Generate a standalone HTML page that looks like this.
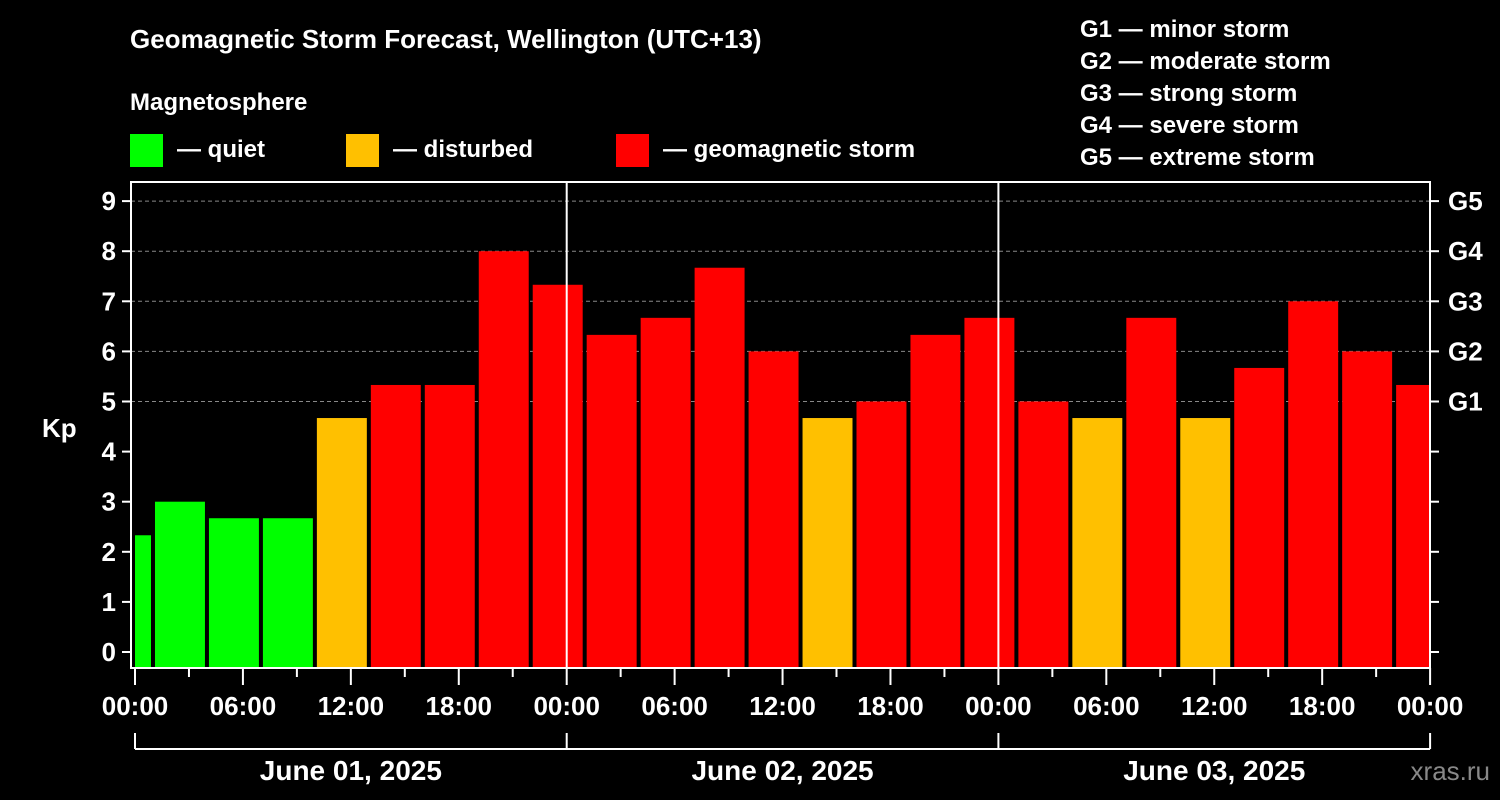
<!DOCTYPE html>
<html><head><meta charset="utf-8"><style>
html,body{margin:0;padding:0;background:#000;}
svg{display:block;font-family:"Liberation Sans",sans-serif;font-weight:bold;}
</style></head><body>
<svg id="chart" width="1500" height="800" xmlns="http://www.w3.org/2000/svg">
<rect width="1500" height="800" fill="#000"/>
<text x="130" y="48" fill="#fff" font-size="26">Geomagnetic Storm Forecast, Wellington (UTC+13)</text>
<text x="130" y="110" fill="#fff" font-size="24">Magnetosphere</text>
<g><rect x="130" y="134" width="33" height="33" fill="#00ff00"/><text x="177" y="157" fill="#fff" font-size="24">— quiet</text></g>
<g><rect x="346" y="134" width="33" height="33" fill="#ffc000"/><text x="393" y="157" fill="#fff" font-size="24">— disturbed</text></g>
<g><rect x="616" y="134" width="33" height="33" fill="#ff0000"/><text x="663" y="157" fill="#fff" font-size="24">— geomagnetic storm</text></g>
<g font-size="24" fill="#fff">
<text x="1080" y="37">G1 — minor storm</text>
<text x="1080" y="69">G2 — moderate storm</text>
<text x="1080" y="101">G3 — strong storm</text>
<text x="1080" y="133">G4 — severe storm</text>
<text x="1080" y="165">G5 — extreme storm</text>
</g>
<text x="42" y="437" fill="#fff" font-size="26">Kp</text>
<text x="1490" y="780" fill="#888" font-size="26" text-anchor="end" font-weight="normal">xras.ru</text>
<g id="plot"></g>
</svg>
<script>
const kpValues=[2.33,3,2.67,2.67,4.67,5.33,5.33,8,7.33,6.33,6.67,7.67,6,4.67,5,6.33,6.67,5,4.67,6.67,4.67,5.67,7,6,5.33];
const startHour=-2; // first bar starts at 22:00 previous day
const dayLabels=["June 01, 2025","June 02, 2025","June 03, 2025"];
const timeLabels=["00:00","06:00","12:00","18:00"];
const gLabels=["G1","G2","G3","G4","G5"];

const NS="http://www.w3.org/2000/svg";
const plot=document.getElementById('plot');
const X0=135,PX_H=431.7/24,L=131,R=1430,T=182,B=668;
const x=h=>X0+h*PX_H;
const y=v=>652-v*50.1;
function mk(tag,attrs,parent){const e=document.createElementNS(NS,tag);for(const k in attrs)e.setAttribute(k,attrs[k]);(parent||plot).appendChild(e);return e;}
// grid
for(let v=5;v<=9;v++){const l=mk('line',{x1:L,x2:R,y1:y(v),y2:y(v),stroke:'#888','stroke-dasharray':'4,3','stroke-width':1});

}
// bars
kpValues.forEach((v,i)=>{
 let h0=startHour+i*3,h1=h0+3;
 let x0=Math.max(x(h0)+2,L+4),x1=Math.min(x(h1)-2,R);
 const c=v<4?'#00ff00':(v<5?'#ffc000':'#ff0000');
 const r=mk('rect',{x:x0,y:y(v),width:x1-x0,height:B-y(v),fill:c});
 
 
});
// day separators
for(let d=1;d<3;d++){const l=mk('line',{x1:x(d*24),x2:x(d*24),y1:T,y2:B,stroke:'#fff','stroke-width':2});

}
// frame
const fr=mk('rect',{x:L,y:T,width:R-L,height:B-T,fill:'none',stroke:'#fff','stroke-width':2});


// y ticks
for(let v=0;v<=9;v++){
 mk('line',{x1:L-9,x2:L,y1:y(v),y2:y(v),stroke:'#fff','stroke-width':2});
 mk('line',{x1:R,x2:R+9,y1:y(v),y2:y(v),stroke:'#fff','stroke-width':2});
 const t=mk('text',{x:116,y:y(v)+9,fill:'#fff','font-size':26,'text-anchor':'end'});t.textContent=v;
 
 
}
gLabels.forEach((g,i)=>{const t=mk('text',{x:1448,y:y(5+i)+9,fill:'#fff','font-size':26});t.textContent=g;

});
// x ticks
for(let h=0;h<=72;h+=3){
 const major=h%6===0;
 mk('line',{x1:x(h),x2:x(h),y1:B,y2:B+(major?17:9),stroke:'#fff','stroke-width':2});
 if(major){const t=mk('text',{x:x(h),y:715,fill:'#fff','font-size':26,'text-anchor':'middle'});t.textContent=timeLabels[(h/6)%4];
 
 }
}
// day bracket
mk('line',{x1:x(0),x2:x(72),y1:749,y2:749,stroke:'#fff','stroke-width':2});
for(let d=0;d<=3;d++)mk('line',{x1:x(d*24),x2:x(d*24),y1:733,y2:749,stroke:'#fff','stroke-width':2});
dayLabels.forEach((s,d)=>{const t=mk('text',{x:x(d*24+12),y:780,fill:'#fff','font-size':28,'text-anchor':'middle'});t.textContent=s;

});
</script>
</body></html>
